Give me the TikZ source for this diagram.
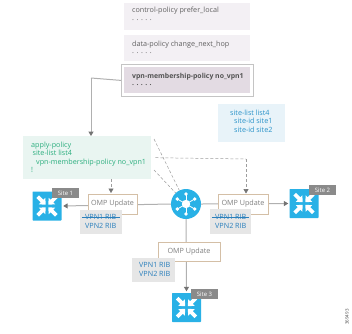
\documentclass[tikz,border=0pt]{standalone}
\usepackage{fontspec}
\setmainfont{Open Sans}
\usetikzlibrary{arrows.meta,calc}
\definecolor{policybg}{HTML}{F3F0F4}
\definecolor{selbg}{HTML}{E3DBE3}
\definecolor{frameg}{HTML}{C4C4C4}
\definecolor{applybg}{HTML}{E9F5F1}
\definecolor{applytx}{HTML}{2BAE7E}
\definecolor{listbg}{HTML}{E8F3F9}
\definecolor{listtx}{HTML}{2A93C9}
\definecolor{rtr}{HTML}{29B1E6}
\definecolor{omp}{HTML}{D4BFA6}
\definecolor{ribbg}{HTML}{E6E6E6}
\definecolor{ribtx}{HTML}{2A7FBC}
\definecolor{lbl}{HTML}{8A8A8A}
\definecolor{conn}{HTML}{B0B0B0}
\tikzset{
  x=1pt,y=-1pt,
  fnt/.style={font=\fontsize{7.2}{8.6}\selectfont},
  pbox/.style={fill=policybg,draw=none,anchor=north west,inner sep=0pt},
  ptext/.style={fnt,text=black!62,anchor=west,inner sep=0pt},
  ptextb/.style={anchor=west,inner sep=0pt,font=\fontsize{6.9}{8.2}\selectfont\bfseries,text=black!68},
  ompbox/.style={draw=omp,line width=1pt,fill=white,fnt,text=black!50,inner sep=0pt,anchor=center},
  ribbox/.style={fill=ribbg,inner sep=0pt,anchor=center},
  ribtext/.style={fnt,text=ribtx,anchor=west,inner sep=0pt,align=left},
  sitelbl/.style={fill=lbl,text=white,font=\fontsize{6}{7}\selectfont,inner sep=0pt,anchor=center},
  rtrbox/.style={fill=rtr,inner sep=0pt,anchor=center,rounded corners=0.6pt},
  conline/.style={draw=conn,line width=1pt},
  dashline/.style={draw=black!38,densely dashed,line width=.5pt},
  tip/.style={-{Triangle[length=4.5pt,width=5pt,color=black!55]}},
}
\newcommand{\xarrows}[1]{%
  \begin{scope}[shift={(#1)}]
   \foreach \r in {45,135,225,315}{
     \begin{scope}[rotate=\r]
       \fill[white] (1.8,0) -- (7,-4.6) -- (7,-1.9) -- (13.2,-1.9) -- (13.2,1.9) -- (7,1.9) -- (7,4.6) -- cycle;
     \end{scope}}
  \end{scope}}
\begin{document}
\begin{tikzpicture}
\useasboundingbox (0,0) rectangle (352,333);
\fill[white] (0,0) rectangle (352,333);
% policy boxes
\node[pbox,minimum width=126pt,minimum height=27pt] (ctl) at (124,3) {};
\node[ptext] (ctlt) at (132,11) {control-policy prefer\_local};
\node[ptext] (ctld) at (132,20) {. . . . .};
\node[pbox,minimum width=126pt,minimum height=26pt] (dat) at (124,35) {};
\node[ptext] (datt) at (132,44.5) {data-policy change\_next\_hop};
\node[ptext] (datd) at (132,53) {. . . . .};
\node[draw=frameg,line width=.8pt,fill=white,minimum width=132pt,minimum height=32pt,anchor=north west,inner sep=0pt] (vpnf) at (121,64) {};
\node[pbox,fill=selbg,minimum width=126pt,minimum height=26pt] (vpn) at (124,67) {};
\node[ptextb] (vpnt) at (132,76.5) {vpn-membership-policy no\_vpn1};
\node[ptextb] (vpnd) at (132,85) {. . . . .};
% apply policy
\node[fill=applybg,minimum width=128pt,minimum height=43pt,anchor=north west,inner sep=0pt] (apply) at (23,136) {};
\node[fnt,text=applytx,anchor=north west,inner sep=0pt,align=left] (applyt) at (31,141.5)
 {apply-policy\\\hspace*{1.5pt}site-list list4\\\hspace*{5pt}vpn-membership-policy no\_vpn1\\!};
% site list
\node[fill=listbg,minimum width=67pt,minimum height=38pt,anchor=north west,inner sep=0pt] (slist) at (218,104) {};
\node[fnt,text=listtx,anchor=north west,inner sep=0pt,align=left] (slistt) at (230,109.5)
 {site-list list4\\\hspace*{4pt}site-id site1\\\hspace*{4pt}site-id site2};
% hub
\node[circle,fill=rtr,minimum size=30pt,inner sep=0pt] (hub) at (186,204) {};
% routers
\node[rtrbox,minimum width=29pt,minimum height=29pt] (r1) at (47,206) {};
\node[rtrbox,minimum width=29pt,minimum height=29pt] (r2) at (304,203.5) {};
\node[rtrbox,minimum width=29pt,minimum height=29pt] (r3) at (186.5,307.5) {};
\xarrows{47,206}\xarrows{304,203.5}\xarrows{186.5,307.5}
% hub spokes
\foreach \a in {30,90,150,210,270,330}{
  \draw[white,line width=.8pt] (hub.center) -- ++(\a:10);
  \fill[white] (hub.center) ++(\a:10) circle (1.9pt);}
\fill[white] (hub.center) circle (4.2pt);
% connectors
\coordinate (c1) at (91,78);
\coordinate (c2) at (91,136);
\draw[conline] (vpnf.west) -- (c1);
\draw[conline,tip] (c1) -- (c2);
\draw[conline,tip,shorten >=1.5pt] (hub.west) -- (r1.east);
\draw[conline,tip,shorten >=1pt] (hub.east) -- (r2.west);
\draw[conline,tip,shorten >=1.5pt] (hub.south) -- (r3.north);
% omp boxes
\node[ompbox,minimum width=49pt,minimum height=20pt] (o1) at (112.5,204) {OMP Update};
\node[ompbox,minimum width=50pt,minimum height=20pt] (o2) at (243,204) {OMP Update};
\node[ompbox,minimum width=62pt,minimum height=19pt] (o3) at (189,251.5) {OMP Update};
% dashed
\coordinate (da) at (111,179);
\draw[dashline,tip] (apply.south -| da) -- (111,193);
\coordinate (db) at (246,159);
\draw[dashline] (apply.east) ++(4,0) -- (db);
\draw[dashline,tip] (db) -- (o2.north -| db);
\coordinate (d1) at (154,139);
\coordinate (d2) at (154,170);
\draw[dashline,shorten >=15pt] (d1) -- (hub.center);
\draw[dashline,shorten >=15pt] (d2) -- (hub.center);
% RIBs
\node[ribbox,minimum width=42pt,minimum height=24pt] (rb1) at (101,222) {};
\node[ribtext] (rt1a) at (85,217.3) {VPN1 RIB};
\node[ribtext] (rt1b) at (85,226) {VPN2 RIB};
\draw[ribtx,line width=.5pt] (rb1.west |- rt1a) ++(2,0) -- ++(38,0);
\node[ribbox,minimum width=41pt,minimum height=25pt] (rb2) at (230.5,221.5) {};
\node[ribtext] (rt2a) at (215,217) {VPN1 RIB};
\node[ribtext] (rt2b) at (215,226) {VPN2 RIB};
\draw[ribtx,line width=.5pt] (rb2.west |- rt2a) ++(2,0) -- ++(37,0);
\node[ribbox,minimum width=43pt,minimum height=24pt] (rb3) at (153.5,270) {};
\node[ribtext] (rt3a) at (139,265) {VPN1 RIB};
\node[ribtext] (rt3b) at (139,274) {VPN2 RIB};
% site labels
\node[sitelbl,minimum width=27pt,minimum height=10pt] (s1) at (65.5,193) {Site 1};
\node[sitelbl,minimum width=27pt,minimum height=10pt] (s2) at (322.5,190) {Site 2};
\node[sitelbl,minimum width=27pt,minimum height=10pt] (s3) at (204.5,294) {Site 3};
\node[rotate=90,font=\fontsize{4.5}{5}\selectfont,text=black!70,inner sep=0pt] (num) at (347,317) {369493};
\end{tikzpicture}
\end{document}
